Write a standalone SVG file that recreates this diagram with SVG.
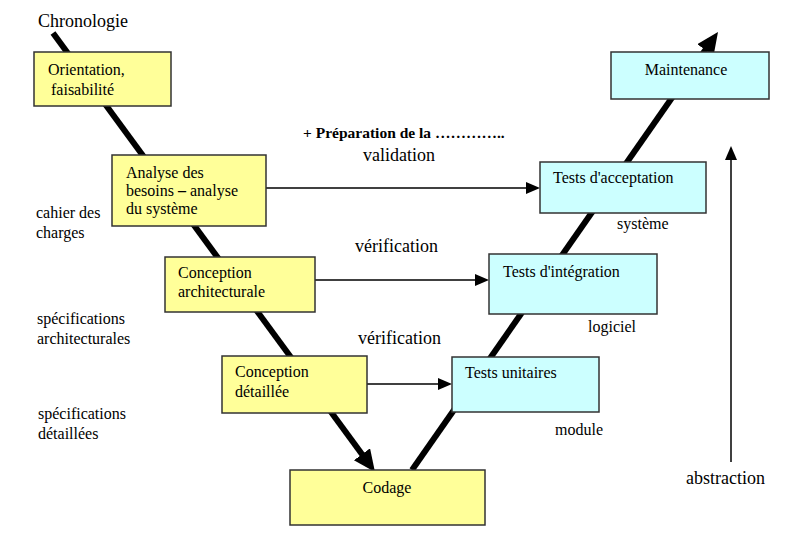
<svg xmlns="http://www.w3.org/2000/svg" width="811" height="546" viewBox="0 0 811 546" font-family="'Liberation Serif', 'DejaVu Serif', serif">
<style>
.t{font-size:16px;}
.big{font-size:18px;}
.y{fill:#FFFF99;stroke:#333;stroke-width:1.5;}
.c{fill:#CCFFFF;stroke:#333;stroke-width:1.5;}
.thick{stroke:#000;stroke-width:6;fill:none;}
.thin{stroke:#000;stroke-width:1.5;fill:none;}
</style>
<defs>
<marker id="bh" markerUnits="userSpaceOnUse" markerWidth="24" markerHeight="22" refX="10" refY="10" orient="auto">
<path d="M0,0 L22,10 L0,20 z" fill="#000"/>
</marker>
<marker id="sh" markerUnits="userSpaceOnUse" markerWidth="16" markerHeight="14" refX="4" refY="6" orient="auto">
<path d="M0,0 L14,6 L0,12 z" fill="#000"/>
</marker>
</defs>
<g id="connectors">
<line class="thick" x1="53" y1="33" x2="367.9" y2="462.3" marker-end="url(#bh)"/>
<line class="thick" x1="412" y1="470" x2="711.1" y2="41.8" marker-end="url(#bh)"/>
<line class="thin" x1="266" y1="188" x2="530" y2="188" marker-end="url(#sh)"/>
<line class="thin" x1="315" y1="280" x2="479" y2="280" marker-end="url(#sh)"/>
<line class="thin" x1="367" y1="384" x2="442" y2="384" marker-end="url(#sh)"/>
<line class="thin" x1="731" y1="462" x2="731" y2="156" marker-end="url(#sh)"/>
</g>
<g id="orientation"><rect class="y" x="34" y="52" width="137" height="54"/><text class="t" x="48" y="75">Orientation,</text><text class="t" x="51" y="95">faisabilité</text></g>
<g id="analyse"><rect class="y" x="112" y="155" width="154" height="71"/><text class="t" x="126" y="178">Analyse des</text><text class="t" x="126" y="196">besoins <tspan font-weight="bold">–</tspan> analyse</text><text class="t" x="126" y="214">du système</text></g>
<g id="conception-arch"><rect class="y" x="165" y="257" width="150" height="55"/><text class="t" x="178" y="278">Conception</text><text class="t" x="178" y="297">architecturale</text></g>
<g id="conception-det"><rect class="y" x="222" y="356" width="145" height="57"/><text class="t" x="235" y="377">Conception</text><text class="t" x="235" y="397">détaillée</text></g>
<g id="codage"><rect class="y" x="290" y="470" width="195" height="55"/><text class="t" x="387" y="493" text-anchor="middle">Codage</text></g>
<g id="tests-unitaires"><rect class="c" x="452" y="357" width="147" height="55"/><text class="t" x="465" y="378">Tests unitaires</text></g>
<g id="tests-integration"><rect class="c" x="489" y="254" width="168" height="60"/><text class="t" x="503" y="277">Tests d'intégration</text></g>
<g id="tests-acceptation"><rect class="c" x="540" y="162" width="166" height="51"/><text class="t" x="553" y="183">Tests d'acceptation</text></g>
<g id="maintenance"><rect class="c" x="611" y="52" width="158" height="47"/><text class="t" x="686" y="75" text-anchor="middle">Maintenance</text></g>
<g id="labels">
<text class="big" x="38" y="27">Chronologie</text>
<text x="303" y="138" font-size="15.5" font-weight="bold">+ Préparation  de la …………..</text>
<text class="big" x="363" y="161">validation</text>
<text class="big" x="355" y="252">vérification</text>
<text class="big" x="358" y="344">vérification</text>
<text class="big" x="686" y="484">abstraction</text>
<text class="t" x="617" y="229">système</text>
<text class="t" x="588" y="332">logiciel</text>
<text class="t" x="555" y="435">module</text>
<text class="t" x="36" y="218">cahier des</text>
<text class="t" x="36" y="238">charges</text>
<text class="t" x="37" y="324">spécifications</text>
<text class="t" x="37" y="344">architecturales</text>
<text class="t" x="38" y="419">spécifications</text>
<text class="t" x="38" y="439">détaillées</text>
</g>
</svg>
